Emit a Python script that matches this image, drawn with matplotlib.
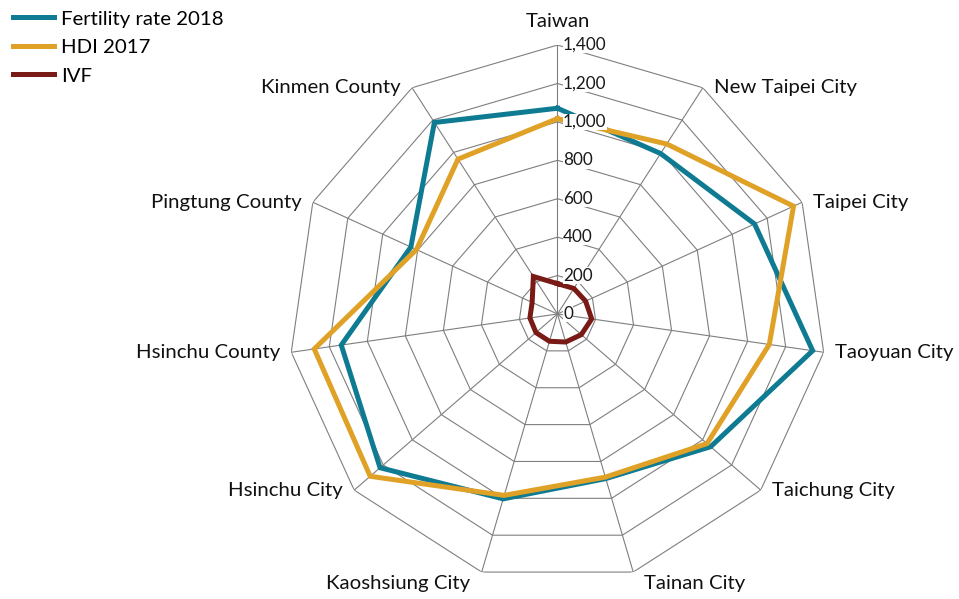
import numpy as np
import matplotlib
matplotlib.use("Agg")
import matplotlib.pyplot as plt

categories = ["Taiwan", "New Taipei City", "Taipei City", "Taoyuan City",
              "Taichung City", "Tainan City", "Kaoshsiung City", "Hsinchu City",
              "Hsinchu County", "Pingtung County", "Kinmen County"]
fertility = [1071, 993, 1128, 1342, 1055, 893, 1003, 1222, 1137, 839, 1185]
hdi = [1017, 1052, 1351, 1114, 1030, 885, 984, 1290, 1279, 807, 958]
ivf = [158, 158, 161, 180, 164, 152, 148, 148, 145, 145, 232]
ring_values = [0, 200, 400, 600, 800, 1000, 1200, 1400]

series = [("Fertility rate 2018", fertility, "#0e7b92"),
          ("HDI 2017", hdi, "#e0a127"),
          ("IVF", ivf, "#7a1a17")]

plt.rcParams["font.family"] = ["Lato", "DejaVu Sans"]

fig = plt.figure(figsize=(9.59, 5.99), dpi=100)
ax = fig.add_axes([0.3008, 0.0268, 0.561, 0.898], polar=True)
ax.set_theta_zero_location("N")
ax.set_theta_direction(-1)
ax.set_ylim(0, 1400)
ax.grid(False)
ax.set_xticks([])
ax.set_yticks([])
ax.spines["polar"].set_visible(False)

n = len(categories)
theta = np.arange(n) * 2 * np.pi / n
theta_c = np.append(theta, theta[0])

# polygon grid
for v in ring_values[1:]:
    ax.plot(theta_c, [v] * (n + 1), color="#7f7f7f", lw=0.8, zorder=1)
for t in theta:
    ax.plot([t, t], [0, 1400], color="#7f7f7f", lw=0.8, zorder=1)

for name, vals, col in series:
    ax.plot(theta_c, vals + vals[:1], color=col, lw=3.6, label=name,
            solid_joinstyle="miter", zorder=3)

for v in ring_values:
    ax.annotate(f"{v:,}", xy=(0, v), xytext=(4, 0), textcoords="offset points",
                ha="left", va="center", fontsize=12.3, color="#1a1a1a", zorder=5,
                bbox=dict(facecolor="white", edgecolor="none", pad=0.3))

# category labels
for t, name in zip(theta, categories):
    s, c = np.sin(t), np.cos(t)
    if abs(s) < 0.01:
        ha, va, off = "center", "bottom", (0, 11)
    else:
        ha = "left" if s > 0 else "right"
        va = "top" if c < -0.9 else "center"
        off = (8 * np.sign(s), -2 if va == "top" else 0)
    ax.annotate(name, xy=(t, 1400), xytext=off, textcoords="offset points",
                ha=ha, va=va, fontsize=14.7, color="#111111",
                annotation_clip=False)

fig.legend(loc="upper left", bbox_to_anchor=(0.0, 1.005), frameon=False,
           fontsize=14.7, handlelength=2.0, handletextpad=0.35,
           labelspacing=0.55, borderaxespad=0.25)

fig.savefig("out.png", dpi=100)
